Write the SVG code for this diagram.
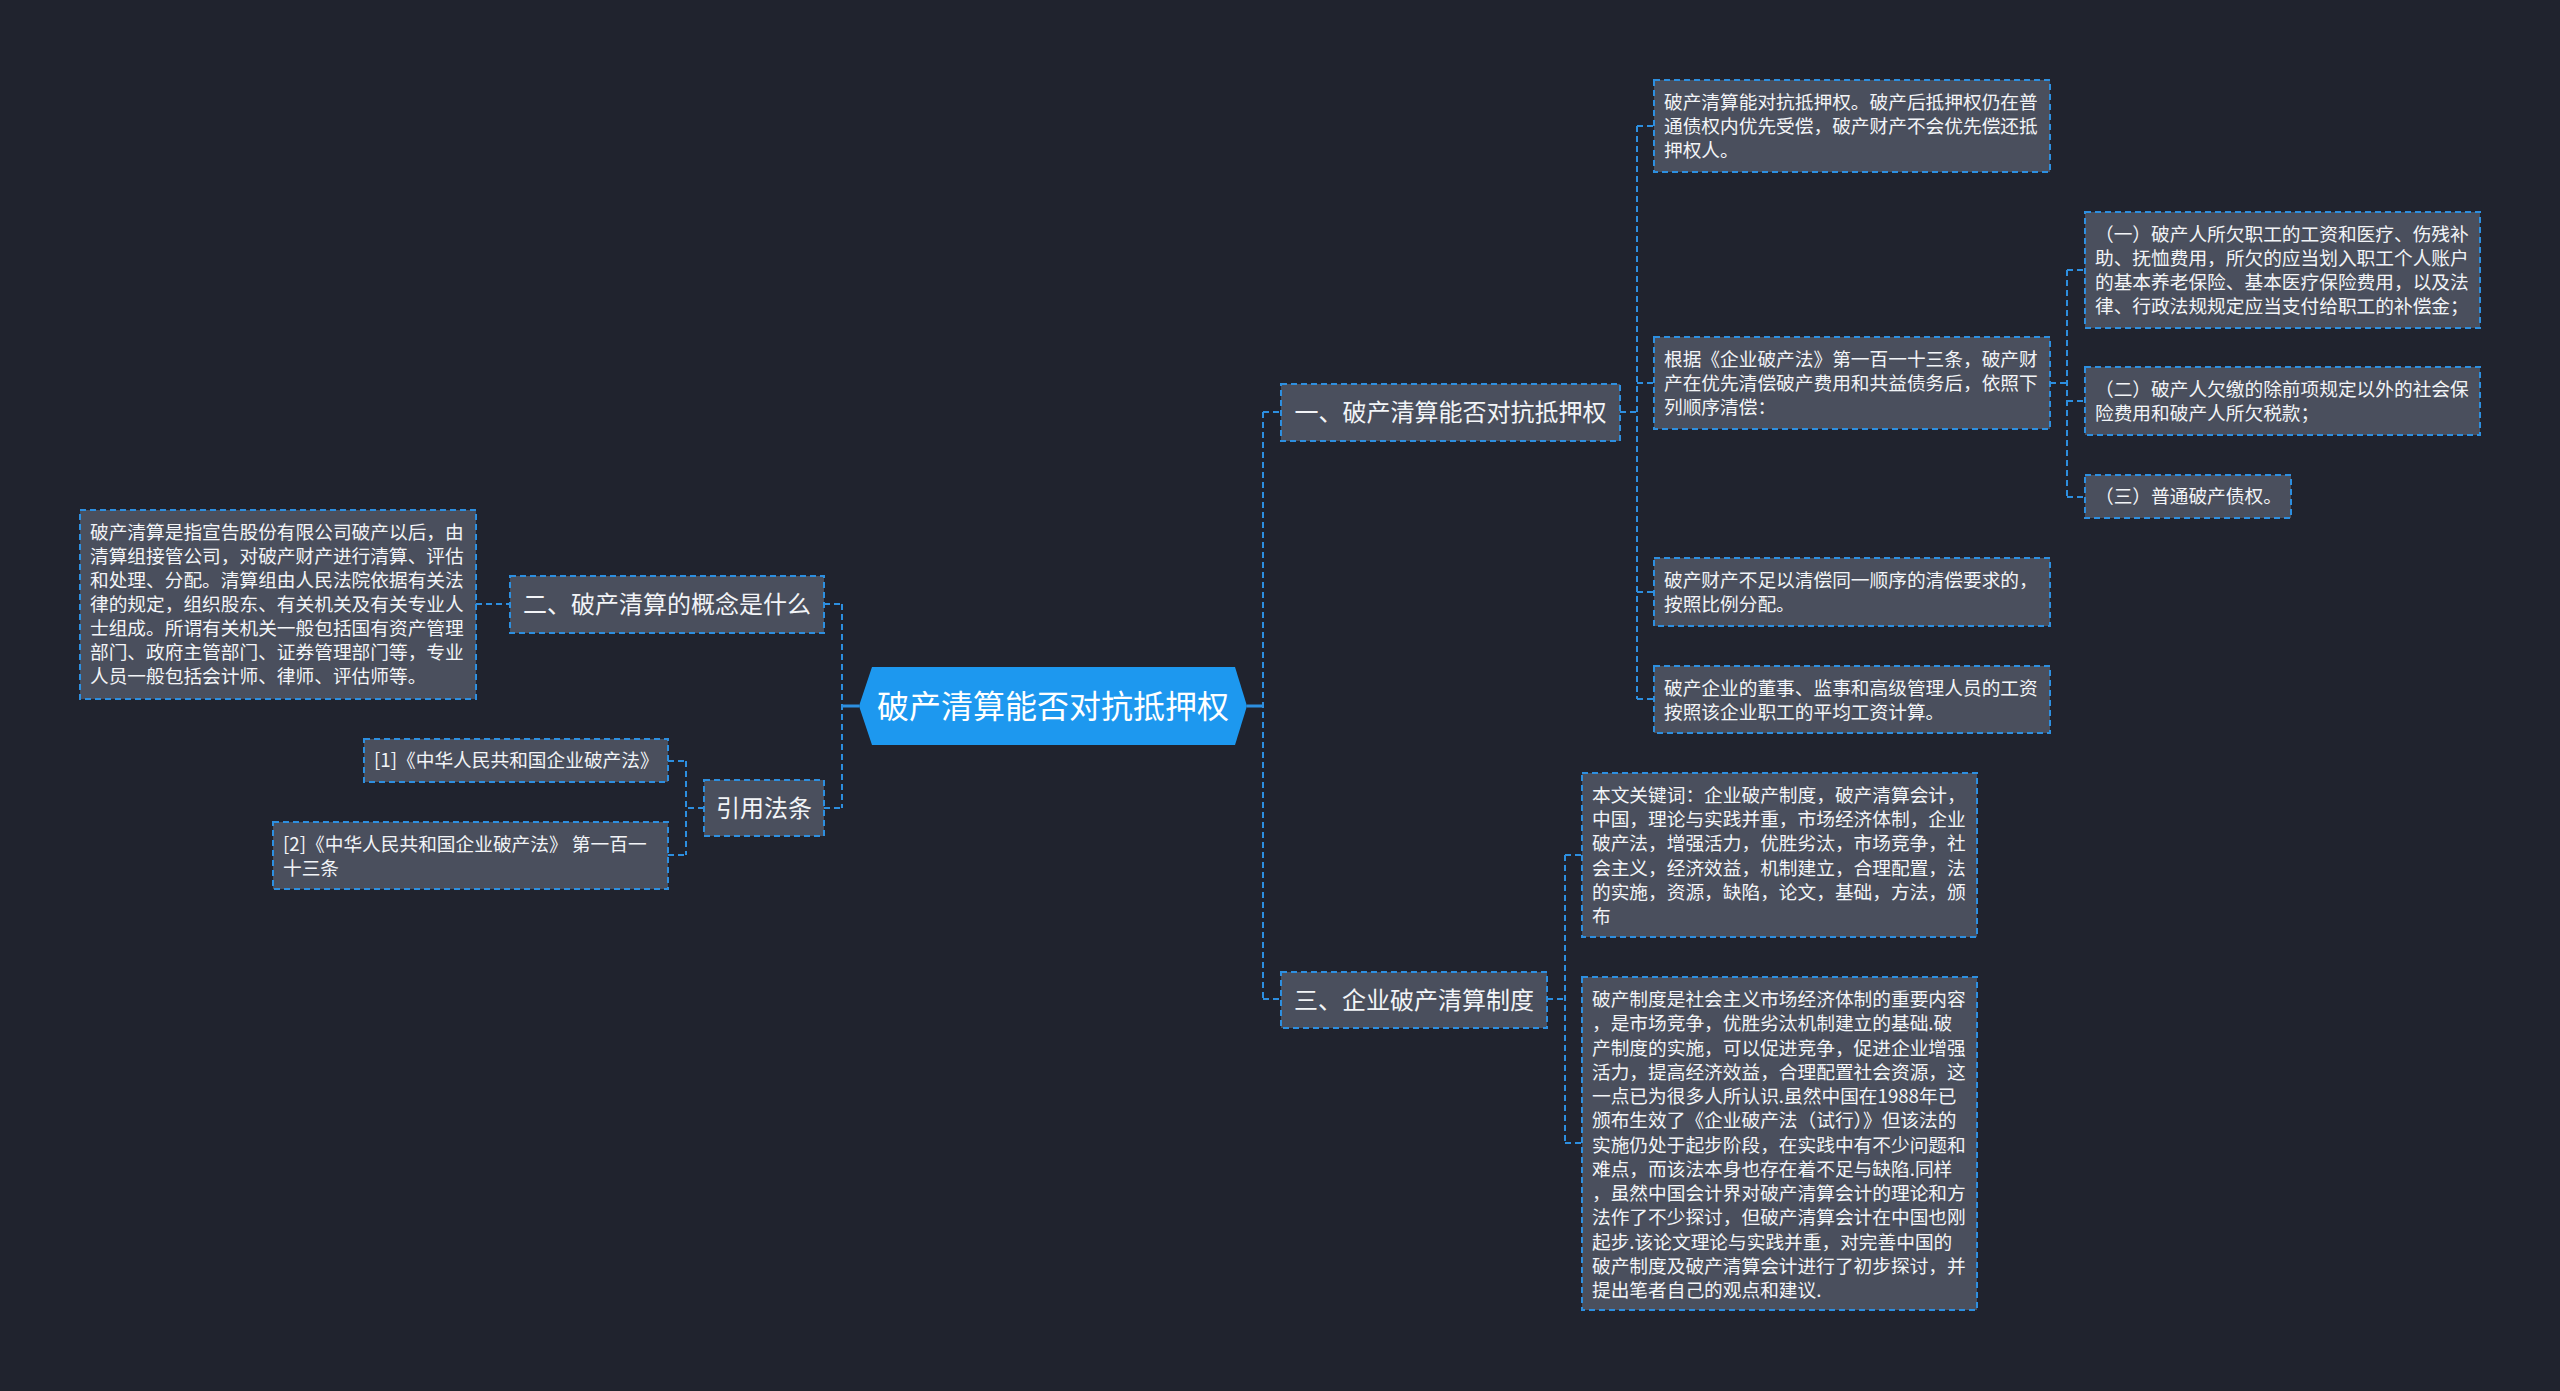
<svg xmlns="http://www.w3.org/2000/svg" width="2560" height="1391" viewBox="0 0 2560 1391">
<style>
.bg{fill:#20232e}
.box{fill:#4a4f5d;stroke:#2d8fe0;stroke-width:2;stroke-dasharray:6 4}
.c{fill:none;stroke:#2d8fe0;stroke-width:2;stroke-dasharray:6 4}
.s{fill:none;stroke:#2d8fe0;stroke-width:3}
.t{font-family:"Noto Sans CJK SC","Noto Sans",sans-serif;fill:#f2f4f7;font-size:18.7px}
.h{font-family:"Noto Sans CJK SC","Noto Sans",sans-serif;fill:#f2f4f7;font-size:24px;text-anchor:middle}
.m{font-family:"Noto Sans CJK SC","Noto Sans",sans-serif;fill:#ffffff;font-size:32px;text-anchor:middle}
</style>
<rect class="bg" x="0" y="0" width="2560" height="1391"/>
<g id="connectors">
<path class="s" d="M859,706 H842 M1247,706 H1263"/>
<path class="c" d="M842,604 V808 M824,604 H842 M824,808 H842 M476,604 H510"/>
<path class="c" d="M686,761 V855 M704,808 H686 M668,761 H686 M668,855 H686"/>
<path class="c" d="M1263,412 V999 M1263,412 H1281 M1263,999 H1281"/>
<path class="c" d="M1620,412 H1637 M1637,126 V699 M1637,126 H1654 M1637,383 H1654 M1637,592 H1654 M1637,699 H1654"/>
<path class="c" d="M2050,383 H2067 M2067,270 V497 M2067,270 H2085 M2067,401 H2085 M2067,497 H2085"/>
<path class="c" d="M1547,999 H1565 M1565,855 V1143 M1565,855 H1582 M1565,1143 H1582"/>
</g>
<g id="root">
<polygon points="859,706 872,667 1235,667 1247,706 1235,745 872,745" fill="#1d98ef"/>
<text class="m" x="1053" y="718">破产清算能否对抗抵押权</text>
</g>
<g id="n1">
<rect class="box" x="1281" y="384" width="339" height="57"/>
<text class="h" x="1450.5" y="421">一、破产清算能否对抗抵押权</text>
</g>
<g id="n1a">
<rect class="box" x="1654" y="80" width="396" height="92"/>
<text class="t" x="1664" y="109">破产清算能对抗抵押权。破产后抵押权仍在普<tspan x="1664" dy="24">通债权内优先受偿，破产财产不会优先偿还抵</tspan><tspan x="1664" dy="24">押权人。</tspan></text>
</g>
<g id="n1b">
<rect class="box" x="1654" y="337" width="396" height="92"/>
<text class="t" x="1664" y="366">根据《企业破产法》第一百一十三条，破产财<tspan x="1664" dy="24">产在优先清偿破产费用和共益债务后，依照下</tspan><tspan x="1664" dy="24">列顺序清偿：</tspan></text>
</g>
<g id="n1b1">
<rect class="box" x="2085" y="212" width="395" height="116"/>
<text class="t" x="2095" y="241">（一）破产人所欠职工的工资和医疗、伤残补<tspan x="2095" dy="24">助、抚恤费用，所欠的应当划入职工个人账户</tspan><tspan x="2095" dy="24">的基本养老保险、基本医疗保险费用，以及法</tspan><tspan x="2095" dy="24">律、行政法规规定应当支付给职工的补偿金；</tspan></text>
</g>
<g id="n1b2">
<rect class="box" x="2085" y="367" width="395" height="68"/>
<text class="t" x="2095" y="396">（二）破产人欠缴的除前项规定以外的社会保<tspan x="2095" dy="24">险费用和破产人所欠税款；</tspan></text>
</g>
<g id="n1b3">
<rect class="box" x="2085" y="475" width="206" height="43"/>
<text class="t" x="2095" y="503">（三）普通破产债权。</text>
</g>
<g id="n1c">
<rect class="box" x="1654" y="558" width="396" height="68"/>
<text class="t" x="1664" y="587">破产财产不足以清偿同一顺序的清偿要求的，<tspan x="1664" dy="24">按照比例分配。</tspan></text>
</g>
<g id="n1d">
<rect class="box" x="1654" y="666" width="396" height="67"/>
<text class="t" x="1664" y="695">破产企业的董事、监事和高级管理人员的工资<tspan x="1664" dy="24">按照该企业职工的平均工资计算。</tspan></text>
</g>
<g id="n3">
<rect class="box" x="1281" y="972" width="266" height="56"/>
<text class="h" x="1414" y="1009">三、企业破产清算制度</text>
</g>
<g id="n3a">
<rect class="box" x="1582" y="773" width="395" height="164"/>
<text class="t" x="1592" y="802">本文关键词：企业破产制度，破产清算会计，<tspan x="1592" dy="24.2">中国，理论与实践并重，市场经济体制，企业</tspan><tspan x="1592" dy="24.2">破产法，增强活力，优胜劣汰，市场竞争，社</tspan><tspan x="1592" dy="24.2">会主义，经济效益，机制建立，合理配置，法</tspan><tspan x="1592" dy="24.2">的实施，资源，缺陷，论文，基础，方法，颁</tspan><tspan x="1592" dy="24.2">布</tspan></text>
</g>
<g id="n3b">
<rect class="box" x="1582" y="977" width="395" height="333"/>
<text class="t" x="1592" y="1006">破产制度是社会主义市场经济体制的重要内容<tspan x="1592" dy="24.25">，是市场竞争，优胜劣汰机制建立的基础.破</tspan><tspan x="1592" dy="24.25">产制度的实施，可以促进竞争，促进企业增强</tspan><tspan x="1592" dy="24.25">活力，提高经济效益，合理配置社会资源，这</tspan><tspan x="1592" dy="24.25">一点已为很多人所认识.虽然中国在1988年已</tspan><tspan x="1592" dy="24.25">颁布生效了《企业破产法（试行）》但该法的</tspan><tspan x="1592" dy="24.25">实施仍处于起步阶段，在实践中有不少问题和</tspan><tspan x="1592" dy="24.25">难点，而该法本身也存在着不足与缺陷.同样</tspan><tspan x="1592" dy="24.25">，虽然中国会计界对破产清算会计的理论和方</tspan><tspan x="1592" dy="24.25">法作了不少探讨，但破产清算会计在中国也刚</tspan><tspan x="1592" dy="24.25">起步.该论文理论与实践并重，对完善中国的</tspan><tspan x="1592" dy="24.25">破产制度及破产清算会计进行了初步探讨，并</tspan><tspan x="1592" dy="24.25">提出笔者自己的观点和建议.</tspan></text>
</g>
<g id="n2">
<rect class="box" x="510" y="576" width="314" height="57"/>
<text class="h" x="667" y="613">二、破产清算的概念是什么</text>
</g>
<g id="n2a">
<rect class="box" x="80" y="510" width="396" height="189"/>
<text class="t" x="90" y="539">破产清算是指宣告股份有限公司破产以后，由<tspan x="90" dy="24">清算组接管公司，对破产财产进行清算、评估</tspan><tspan x="90" dy="24">和处理、分配。清算组由人民法院依据有关法</tspan><tspan x="90" dy="24">律的规定，组织股东、有关机关及有关专业人</tspan><tspan x="90" dy="24">士组成。所谓有关机关一般包括国有资产管理</tspan><tspan x="90" dy="24">部门、政府主管部门、证券管理部门等，专业</tspan><tspan x="90" dy="24">人员一般包括会计师、律师、评估师等。</tspan></text>
</g>
<g id="n4">
<rect class="box" x="704" y="780" width="120" height="56"/>
<text class="h" x="764" y="817">引用法条</text>
</g>
<g id="n4a">
<rect class="box" x="364" y="739" width="304" height="43"/>
<text class="t" x="374" y="767">[1]《中华人民共和国企业破产法》</text>
</g>
<g id="n4b">
<rect class="box" x="273" y="822" width="395" height="67"/>
<text class="t" x="283" y="851">[2]《中华人民共和国企业破产法》 第一百一<tspan x="283" dy="24">十三条</tspan></text>
</g>
</svg>
